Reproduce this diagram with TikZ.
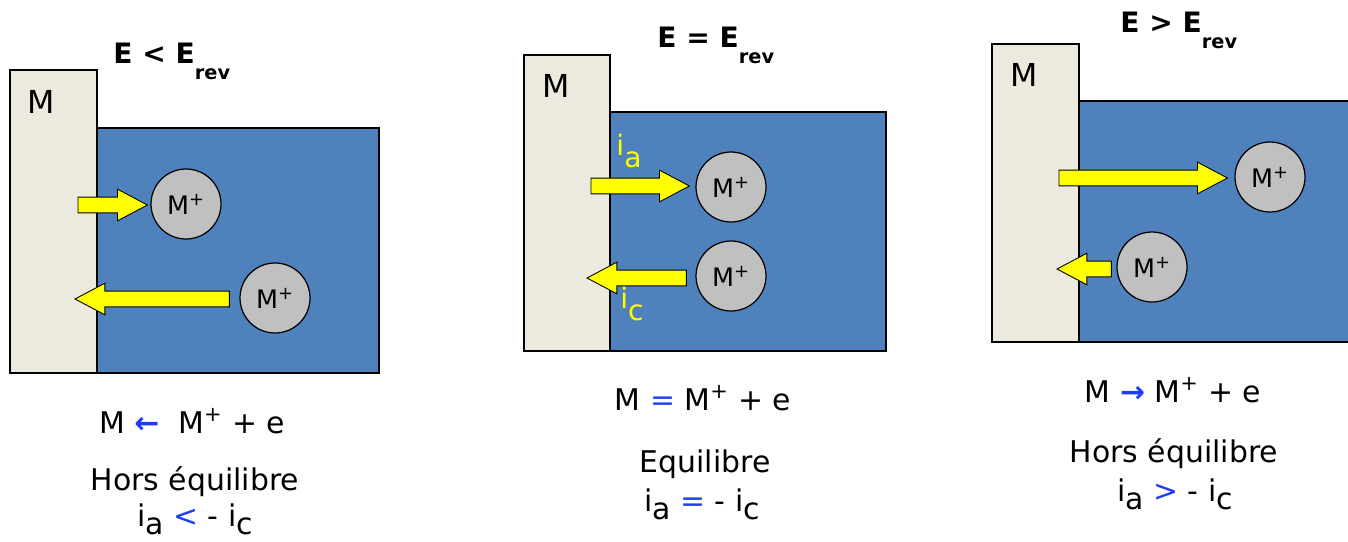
\documentclass[tikz,border=0pt]{standalone}
\usepackage{fontspec}
\setmainfont{DejaVu Sans}
\usepackage{tikz}
\usetikzlibrary{positioning, calc, fit}
\definecolor{metalgray}{RGB}{236,233,223}
\definecolor{bathblue}{RGB}{79,129,189}
\definecolor{iongray}{RGB}{192,192,192}
\definecolor{flowyellow}{RGB}{255,255,0}
\definecolor{eqblue}{RGB}{30,60,255}
\tikzset{
  metal/.style={rectangle, draw=black, fill=metalgray, inner sep=0pt, line width=0.6pt},
  bath/.style={rectangle, draw=black, fill=bathblue, inner sep=0pt, line width=0.6pt},
  ion/.style={circle, draw=black, fill=iongray, minimum size=1.4cm,
    inner sep=0pt, line width=0.7pt, font=\fontsize{14.5}{17}\selectfont},
  flow/.style={draw=black, fill=flowyellow, line width=0.5pt},
  title/.style={font=\fontsize{16}{19}\selectfont\bfseries, anchor=base west, inner sep=0pt},
  eqtext/.style={font=\fontsize{17}{20}\selectfont, anchor=base, inner sep=0pt},
  mlabel/.style={font=\fontsize{18}{21}\selectfont},
  curlabel/.style={text=flowyellow, font=\fontsize{16}{19}\selectfont, inner sep=0pt}
}
\newcommand{\lowidx}[2][5pt]{\raisebox{-#1}{#2}}
\newcommand{\ionM}{M\textsuperscript{+}}
% fat horizontal arrow from #1 to #2
\newcommand{\fatarrow}[2]{%
  \draw[flow] let \p1=(#1), \p2=(#2), \n1={2*(\x2>\x1)-1} in
    (\x1,{\y1+4.5pt}) -- ({\x2-\n1*17pt},{\y1+4.5pt}) -- ({\x2-\n1*17pt},{\y1+9pt})
    -- (\x2,\y1) -- ({\x2-\n1*17pt},{\y1-9pt}) -- ({\x2-\n1*17pt},{\y1-4.5pt})
    -- (\x1,{\y1-4.5pt}) -- cycle;}

\begin{document}
\begin{tikzpicture}[x=0.02cm, y=-0.02cm]
  \useasboundingbox (0,0) rectangle (1348,541);

  % E < Erev
  \node[bath, fit={(97,128) (379,373)}] (b1) {};
  \node[metal, fit={(10,70) (97,373)}] (m1) {};
  \node[mlabel] (m1lab) at ($(m1.north west)+(32,32)$) {M};
  \node[title] (t1) at (113,63) {E < E\lowidx[9.5pt]{\fontsize{11}{13}\selectfont rev}};
  \node[ion] (i1a) at (186,204) {\ionM};
  \node[ion] (i1b) at (275,298) {\ionM};
  \coordinate (o1) at (78,205);
  \coordinate (r1) at (75,299);
  \fatarrow{o1}{$(i1a.west)+(-3,0)$}
  \fatarrow{$(i1b.west)+(-10,1)$}{r1}
  \node[eqtext] (e1) at (192,433) {M \textcolor{eqblue}{\textbf{←}}\ \ \ionM{} + e};
  \node[eqtext] (s1) at (195,490) {Hors équilibre};
  \node[eqtext] (c1) at (195,526) {i\lowidx{a} \textcolor{eqblue}{<} - i\lowidx{c}};

  % E = Erev
  \node[bath, fit={(610,112) (886,351)}] (b2) {};
  \node[metal, fit={(524,55) (610,351)}] (m2) {};
  \node[mlabel] (m2lab) at ($(m2.north west)+(33,31)$) {M};
  \node[title] (t2) at (657,47) {E = E\lowidx[9.5pt]{\fontsize{11}{13}\selectfont rev}};
  \node[ion] (i2a) at (731,187) {\ionM};
  \node[ion] (i2b) at (731,276) {\ionM};
  \coordinate (o2) at (591,186);
  \coordinate (r2) at (587,278);
  \fatarrow{o2}{$(i2a.west)+(-6,-1)$}
  \fatarrow{$(i2b.west)+(-9,2)$}{r2}
  \node[curlabel] (ia) at (629,151) {i\lowidx[7pt]{a}};
  \node[curlabel] (ic) at (632,304) {i\lowidx[7pt]{c}};
  \node[eqtext] (e2) at (703,410) {M \textcolor{eqblue}{=} \ionM{} + e};
  \node[eqtext] (s2) at (705,472) {Equilibre};
  \node[eqtext] (c2) at (702,511) {i\lowidx{a} \textcolor{eqblue}{=} - i\lowidx{c}};

  % E > Erev
  \node[bath, fit={(1079,101) (1352,342)}] (b3) {};
  \node[metal, fit={(992,44) (1079,342)}] (m3) {};
  \node[mlabel] (m3lab) at ($(m3.north west)+(33,31)$) {M};
  \node[title] (t3) at (1120,32) {E > E\lowidx[9.5pt]{\fontsize{11}{13}\selectfont rev}};
  \node[ion] (i3a) at (1270,177) {\ionM};
  \node[ion] (i3b) at (1152,267) {\ionM};
  \coordinate (o3) at (1059,178);
  \coordinate (r3) at (1057,269);
  \fatarrow{o3}{$(i3a.west)+(-7,1)$}
  \fatarrow{$(i3b.west)+(-5,2)$}{r3}
  \node[eqtext] (e3) at (1173,402) {M \textcolor{eqblue}{\textbf{→}} \ionM{} + e};
  \node[eqtext] (s3) at (1174,462) {Hors équilibre};
  \node[eqtext] (c3) at (1175,501) {i\lowidx{a} \textcolor{eqblue}{>} - i\lowidx{c}};
\end{tikzpicture}
\end{document}
